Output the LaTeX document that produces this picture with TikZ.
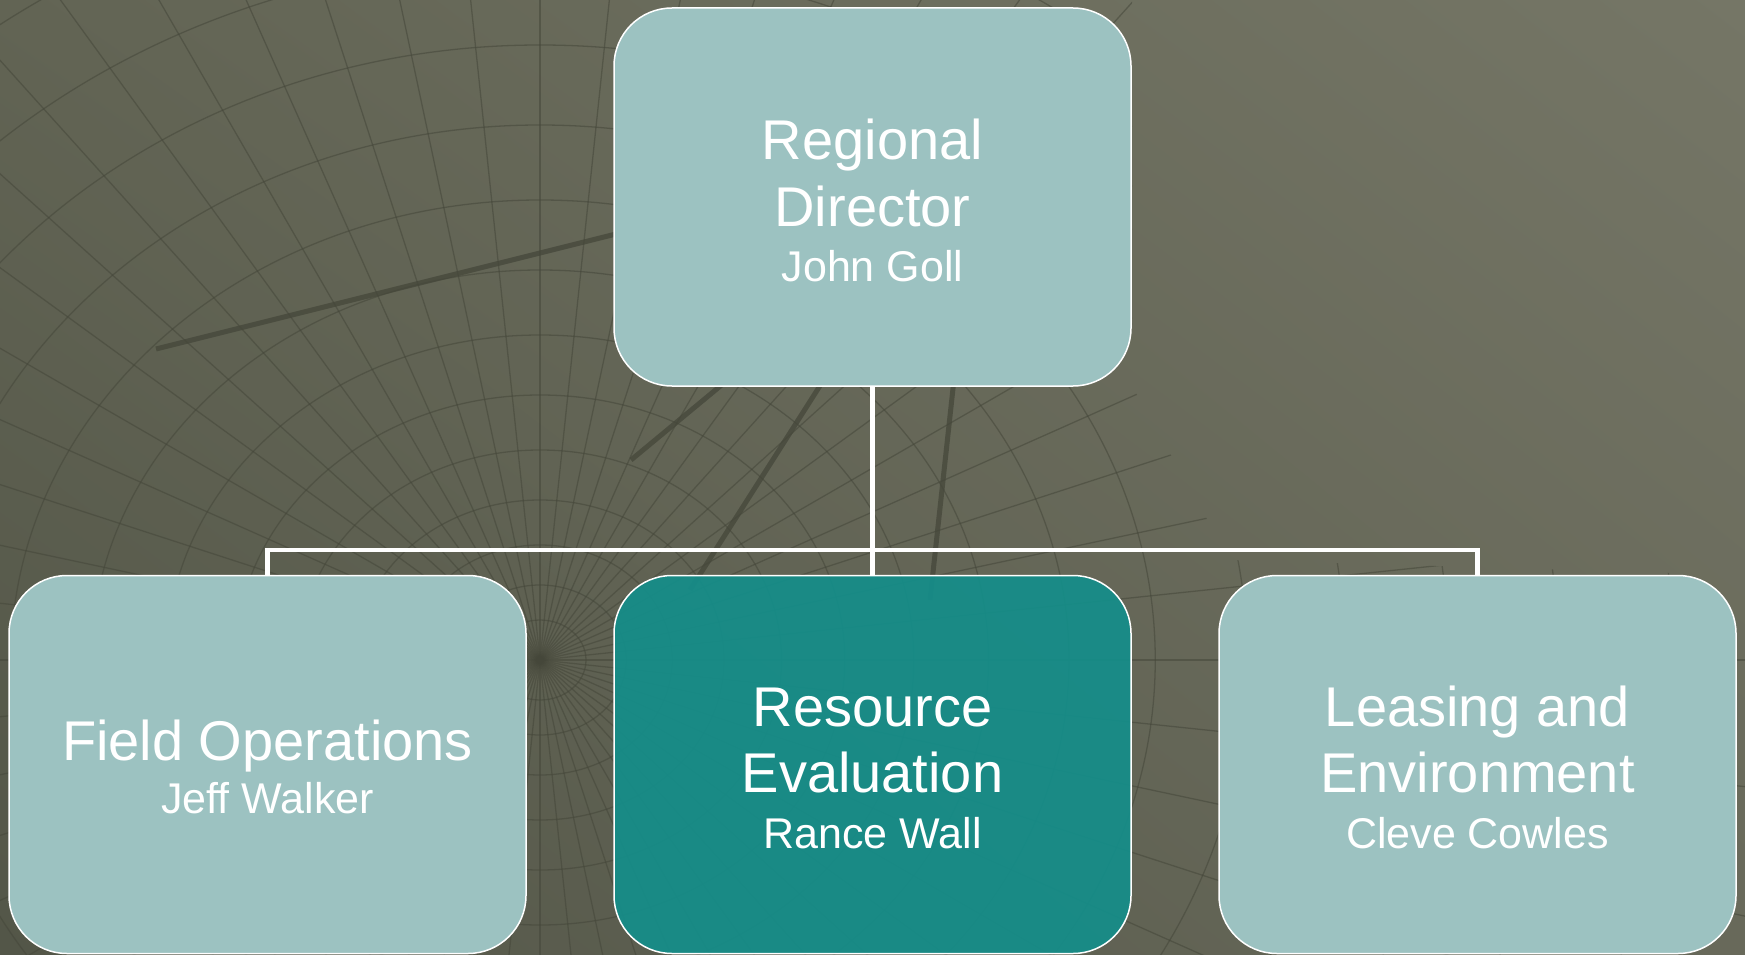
\documentclass[tikz,border=0pt]{standalone}
\usepackage{fontspec}
\setmainfont{Liberation Sans}
\usetikzlibrary{shadings}
\definecolor{boxlight}{HTML}{9CC2C1}
\definecolor{boxdark}{HTML}{148E8A}
\definecolor{gridc}{HTML}{45473A}
\definecolor{bgll}{HTML}{535648}
\definecolor{bgul}{HTML}{626454}
\definecolor{bgur}{HTML}{757666}
\definecolor{bglr}{HTML}{68695A}
\begin{document}
\begin{tikzpicture}[x=1pt,y=-1pt,
  box/.style={draw=white, line width=1.5pt, rounded corners=58pt, fill=boxlight,
    minimum width=517pt, minimum height=378pt, inner sep=0pt},
  ttl/.style={text=white, anchor=base, font=\fontsize{56}{67}\selectfont, inner sep=0pt},
  sub/.style={text=white, anchor=base, font=\fontsize{43}{52}\selectfont, inner sep=0pt},
  link/.style={draw=white, line width=4.5pt},
  gridline/.style={draw=gridc, line width=1.3pt, opacity=0.55},
  thickline/.style={draw=gridc, line width=5pt, opacity=0.75}]
\useasboundingbox (0,0) rectangle (1745,955);
% background
\shade[lower left=bgll, upper left=bgul, upper right=bgur, lower right=bglr]
  (0,0) rectangle (1745,955);
\begin{scope}
  \clip (0,0) -- (1132,0) -- (1132,386) -- (1230,560) -- (1745,575) -- (1745,955) -- (0,955) -- cycle;
  \foreach \r in {40,75,115,160,210,265,325,390,460,535,615,700,790,885,985}
    \draw[gridline] (540,660) ellipse [x radius=1.15*\r, y radius=\r];
  \foreach \a in {0,6,...,357}
    \draw[gridline] (540,660) -- ++(\a:1300);
\end{scope}
\draw[thickline] (156,349) -- (640,228);
\draw[thickline] (631,460) -- (730,378);
\draw[thickline] (690,590) -- (830,370);
\draw[thickline] (930,600) -- (955,370);
% boxes
\node[box] (dirbox) at (872.5,197) {};
\node[box] (fieldbox) at (267.5,764.5) {};
\node[box, fill=boxdark, fill opacity=0.92] (resbox) at (872.5,764.5) {};
\node[box] (leasebox) at (1477.5,764.5) {};
% connectors
\coordinate (hub) at (872.5,550);
\draw[link] (dirbox.south) -- (hub);
\draw[link] (fieldbox.north) |- (hub) -| (leasebox.north);
\draw[link] (hub) -- (resbox.north);
% texts
\node[ttl] (t1) at (872.5,159) {Regional};
\node[ttl] (t2) at (872.5,226) {Director};
\node[sub] (t3) at (872.5,281) {John Goll};
\node[ttl] (f1) at (267.5,760) {Field Operations};
\node[sub] (f2) at (267.5,813) {Jeff Walker};
\node[ttl] (r1) at (872.5,726) {Resource};
\node[ttl] (r2) at (872.5,792) {Evaluation};
\node[sub] (r3) at (872.5,848) {Rance Wall};
\node[ttl] (l1) at (1477.5,726) {Leasing and};
\node[ttl] (l2) at (1477.5,792) {Environment};
\node[sub] (l3) at (1477.5,848) {Cleve Cowles};
\end{tikzpicture}
\end{document}
